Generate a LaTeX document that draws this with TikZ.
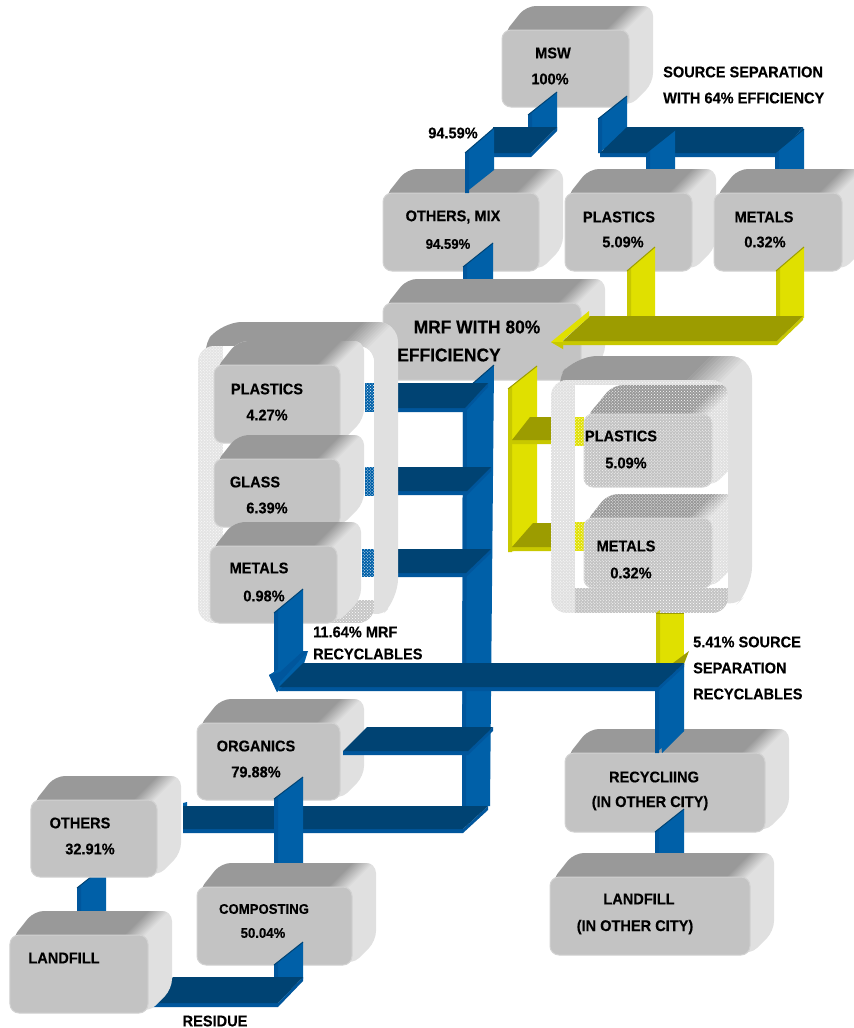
\documentclass[tikz,border=0pt]{standalone}
\usepackage{fontspec}
\usetikzlibrary{patterns}
\newfontfamily\lblfont[FakeStretch=0.94,FakeBold=0.25]{Liberation Sans}
\definecolor{bF}{HTML}{0060A8}\definecolor{bD}{HTML}{004373}\definecolor{bE}{HTML}{00569C}
\definecolor{yF}{HTML}{E0E000}\definecolor{yD}{HTML}{9C9C00}\definecolor{yE}{HTML}{C8C800}
\definecolor{faceF}{HTML}{C3C3C3}\definecolor{faceT}{HTML}{999999}\definecolor{faceR}{HTML}{E0E0E0}\definecolor{faceL}{HTML}{D2D2D2}
\newcommand{\useblue}{\colorlet{ribF}{bF}\colorlet{ribD}{bD}\colorlet{ribE}{bE}}
\newcommand{\useyellow}{\colorlet{ribF}{yF}\colorlet{ribD}{yD}\colorlet{ribE}{yE}}
% vertical ribbon: x1 x2 y-top-left y-top-right y-bottom-right y-bottom-left
\newcommand{\vrib}[6]{%
  \fill[ribF] (#1,#3)--(#2,#4)--(#2,#5)--(#1,#6)--cycle;
  \fill[ribE] (#1,#3)--({#1+4},{#3-3})--({#1+4},#6)--(#1,#6)--cycle;
  \draw[ribD,line width=1bp] (#1,#3)--(#2,#4);}
% horizontal ribbon: xl yt xr xrb yb xlb
\newcommand{\hrib}[6]{%
  \fill[ribE] (#6,#5)--(#4,#5)--(#3,#2)--(#3,{#2+4})--(#4,{#5+4})--(#6,{#5+4})--cycle;
  \fill[ribD] (#1,#2)--(#3,#2)--(#4,#5)--(#6,#5)--cycle;}
\newcommand{\boxrad}{10}
\newcommand{\gradw}{24}
% 3D box back: x y w h d
\newcommand{\boxback}[5]{%
  \fill[faceR,rounded corners=\boxrad bp] ({#1+1},{#2+5})--({#1+#5},{#2-#5})--({#1+#3+#5},{#2-#5})--({#1+#3+#5},{#2+#4-#5})--({#1+#3},{#2+#4})--cycle;
  \begin{scope}
  \clip[rounded corners=\boxrad bp] ({#1+1},{#2+5})--({#1+#5},{#2-#5})--({#1+#3+#5},{#2-#5})--({#1+#3+#5},{#2+#4-#5})--({#1+#3},{#2+#4})--cycle;
  \fill[faceT] (#1,{#2+4})--({#1+#5},{#2-#5-1})--({#1+#3+#5-\gradw+1},{#2-#5-1})--({#1+#3+#5-\gradw-#5-6},{#2+6})--cycle;
  \foreach \i in {0,...,11}{%
    \pgfmathsetmacro{\mixp}{100-\i*100/11}%
    \pgfmathsetmacro{\ustart}{#1+#3+#5-\gradw+\i*\gradw/12}%
    \pgfmathsetmacro{\uend}{\ustart+\gradw/12+0.5}%
    \fill[faceT!\mixp!faceR] (\ustart,{#2-#5-1})--(\uend,{#2-#5-1})--({\uend-#5-8},{#2+7})--({\ustart-#5-8},{#2+7})--cycle;
  }
  \end{scope}}
% full box: name x y w h
\newcommand{\threebox}[5]{%
  \boxback{#2}{#3}{#4}{#5}{24}
  \node[frontface,minimum width=#4 bp,minimum height=#5 bp] (#1) at ({#2+#4/2},{#3+#5/2}) {};}
\tikzset{
  frontface/.style={draw=faceL,fill=faceF,line width=1bp,rounded corners=9bp,inner sep=0pt,outer sep=0pt},
  lbl/.style={inner sep=0pt,text=black,font=\lblfont\bfseries\fontsize{15.5bp}{18bp}\selectfont},
  lblsm/.style={lbl,font=\lblfont\bfseries\fontsize{14bp}{17bp}\selectfont},
  lblbig/.style={lbl,font=\lblfont\bfseries\fontsize{18.5bp}{22bp}\selectfont},
  dotted over/.style={pattern=crosshatch dots,pattern color=white}
}
\begin{document}
\begin{tikzpicture}[x=1bp,y=-1bp]
\useasboundingbox (0,0) rectangle (854,1028);
\clip (0,0) rectangle (854,1028);
\fill[white] (0,0) rectangle (854,1028);
% --- top boxes
\threebox{msw}{502}{30}{127}{77}
\threebox{mix}{383}{193}{156}{78}
\useblue
% MSW -> others
\vrib{528}{557}{115}{92}{130}{130}
\hrib{493}{127}{557}{531}{153}{493}
\vrib{465}{494}{153}{128}{170}{193}
% MSW -> source separation
\vrib{598}{627}{119}{96}{135}{153}
\hrib{627}{127}{803}{780}{153}{600}
\vrib{646}{675}{153}{130}{170}{170}
\vrib{775}{804}{153}{129}{170}{170}
\threebox{plasticsA}{565}{193}{127}{78}
\threebox{metalsA}{714}{193}{128}{78}
% others -> MRF
\vrib{463}{493}{267}{243}{280}{280}
\threebox{mrf}{383}{303}{198}{77}
% yellow returns to MRF
\useyellow
\vrib{627}{655}{271}{247}{318}{318}
\vrib{776}{804}{271}{247}{318}{318}
\hrib{590}{316}{803}{777}{341}{563}
\fill[yF] (551,342)--(589,311)--(589,317)--(563,340)--(563,349)--cycle;
\fill[yE] (551,342)--(563,342)--(563,349)--cycle;
% main vertical
\useblue
\fill[bF] (463,392)--(494,365)--(490,806)--(462,806)--cycle;
\fill[bE] (463,392)--(467,389)--(466,806)--(462,806)--cycle;
\draw[bD,line width=1bp] (463,392)--(494,365);
\hrib{397}{383}{488}{465}{408}{397}
\hrib{397}{467}{491}{467}{491}{397}
\hrib{397}{549}{491}{466}{573}{397}
% yellow left bar
\useyellow
\vrib{508}{537}{389}{366}{547}{552}
\hrib{530}{417}{551}{551}{440}{512}
\hrib{533}{523}{551}{551}{547}{512}
\fill[yE] (508,547) rectangle (512,552);
% --- left group frame
\renewcommand{\boxrad}{20}\renewcommand{\gradw}{36}
\boxback{198}{346}{176}{277}{24}
\renewcommand{\boxrad}{10}\renewcommand{\gradw}{24}
\begin{scope}
  \clip[rounded corners=16bp] (198,346) rectangle (374,623);
  \fill[faceL!60] (198,346) rectangle (374,623);
  \fill[dotted over] (198,346) rectangle (374,623);
  \fill[white] (223,346) rectangle (374,600);
  \fill[gray!45] (330,600) rectangle (374,623);
  \fill[dotted over] (330,600) rectangle (374,623);
  \fill[bF] (365,383) rectangle (374,412);
  \fill[bF] (365,467) rectangle (374,496);
  \fill[bF] (362,549) rectangle (374,577);
  \fill[dotted over] (362,383) rectangle (374,412);
  \fill[dotted over] (362,467) rectangle (374,496);
  \fill[dotted over] (362,549) rectangle (374,577);
\end{scope}
\threebox{plasticsB}{214}{365}{126}{78}
\threebox{glass}{214}{459}{126}{68}
\threebox{metalsB}{210}{546}{127}{77}
% --- right group frame
\renewcommand{\boxrad}{22}\renewcommand{\gradw}{44}
\boxback{551}{380}{177}{233}{24}
\renewcommand{\boxrad}{10}\renewcommand{\gradw}{24}
\begin{scope}
  \clip[rounded corners=16bp] (551,380) rectangle (728,613);
  \fill[faceR] (551,380) rectangle (728,613);
  \fill[white] (575,385) rectangle (728,588);
  \fill[faceF] (575,588) rectangle (728,613);
  \fill[yF] (575,417) rectangle (584,446);
  \fill[yF] (575,522) rectangle (586,551);
  \boxback{584}{414}{128}{73}{29}
  \node[frontface,minimum width=128bp,minimum height=73bp] (plasticsC) at (648,450.5) {};
  \boxback{584}{518}{128}{70}{24}
  \node[frontface,minimum width=128bp,minimum height=70bp] (metalsC) at (648,553) {};
  \fill[faceF] (575,588) rectangle (712,613);
  \fill[dotted over] (551,380) rectangle (728,613);
\end{scope}
% --- recyclables
\useyellow
\vrib{656}{684}{613}{613}{665}{665}
\fill[yD] (673,663)--(689,651)--(684,664)--cycle;
\useblue
\threebox{recycling}{565}{753}{200}{79}
\vrib{655}{684}{688}{664}{731}{753}
\fill[bF] (662,753)--(684,731)--(660,731)--cycle;
\vrib{655}{684}{832}{809}{853}{853}
\threebox{landfillB}{550}{877}{200}{78}
\hrib{303}{663}{684}{658}{687}{279}
% metals -> recyclables
\vrib{274}{303}{613}{589}{668}{680}
\fill[bF] (269,675)--(308,651)--(303,667)--(277,692)--cycle;
\fill[bE] (269,675)--(280,672)--(303,651)--(308,651)--(280,682)--(277,692)--cycle;
\fill[bD] (303,663)--(318,663)--(284,687)--(279,687)--cycle;
% --- lower part
\threebox{organics}{197}{723}{143}{77}
\hrib{367}{727}{493}{468}{751}{343}
\fill[bF] (183,803)--(187,802)--(187,806)--(183,806)--cycle;
\hrib{183}{806}{488}{463}{829}{183}
\vrib{274}{303}{799}{777}{864}{864}
\threebox{composting}{197}{887}{155}{78}
\vrib{274}{303}{965}{942}{979}{979}
\hrib{173}{977}{303}{278}{1003}{150}
\vrib{77}{106}{888}{865}{912}{912}
\threebox{others}{31}{800}{126}{77}
\threebox{landfillA}{10}{935}{138}{78}
% --- labels
\node[lbl] (t1) at (553,53) {MSW};
\node[lbl] (t2) at (550,79) {100\%};
\node[lbl] (t3) at (453,133) {94.59\%};
\node[lbl,anchor=west] (t4) at (663,72) {SOURCE SEPARATION};
\node[lbl,anchor=west] (t5) at (663,98) {WITH 64\% EFFICIENCY};
\node[lbl] (t6) at (453,217) {OTHERS, MIX};
\node[lblsm] (t7) at (448,244) {94.59\%};
\node[lbl] (t8) at (619,217) {PLASTICS};
\node[lbl] (t9) at (623,242) {5.09\%};
\node[lbl] (t10) at (764,217) {METALS};
\node[lbl] (t11) at (765,242) {0.32\%};
\node[lblbig] (t12) at (477,327) {MRF WITH 80\%};
\node[lblbig] (t13) at (449,355) {EFFICIENCY};
\node[lbl] (t14) at (267,389) {PLASTICS};
\node[lbl] (t15) at (267,415) {4.27\%};
\node[lbl] (t16) at (255,482) {GLASS};
\node[lbl] (t17) at (267,508) {6.39\%};
\node[lbl] (t18) at (259,568) {METALS};
\node[lbl] (t19) at (264,596) {0.98\%};
\node[lbl,anchor=west] (t20) at (313,632) {11.64\% MRF};
\node[lbl,anchor=west] (t21) at (313,654) {RECYCLABLES};
\node[lbl] (t22) at (621,436) {PLASTICS};
\node[lbl] (t23) at (626,463) {5.09\%};
\node[lbl] (t24) at (626,546) {METALS};
\node[lbl] (t25) at (631,573) {0.32\%};
\node[lbl,anchor=west] (t26) at (693,642) {5.41\% SOURCE};
\node[lbl,anchor=west] (t27) at (693,668) {SEPARATION};
\node[lbl,anchor=west] (t28) at (693,694) {RECYCLABLES};
\node[lbl] (t29) at (256,746) {ORGANICS};
\node[lbl] (t30) at (256,772) {79.88\%};
\node[lbl] (t31) at (80,823) {OTHERS};
\node[lbl] (t32) at (90,849) {32.91\%};
\node[lblsm] (t33) at (264,909) {COMPOSTING};
\node[lblsm] (t34) at (263,933) {50.04\%};
\node[lbl] (t35) at (64,958) {LANDFILL};
\node[lbl] (t36) at (215,1021) {RESIDUE};
\node[lbl] (t37) at (654,777) {RECYCLIING};
\node[lbl] (t38) at (650,803) {(IN OTHER CITY)};
\node[lbl] (t39) at (639,899) {LANDFILL};
\node[lbl] (t40) at (635,927) {(IN OTHER CITY)};
\end{tikzpicture}
\end{document}
